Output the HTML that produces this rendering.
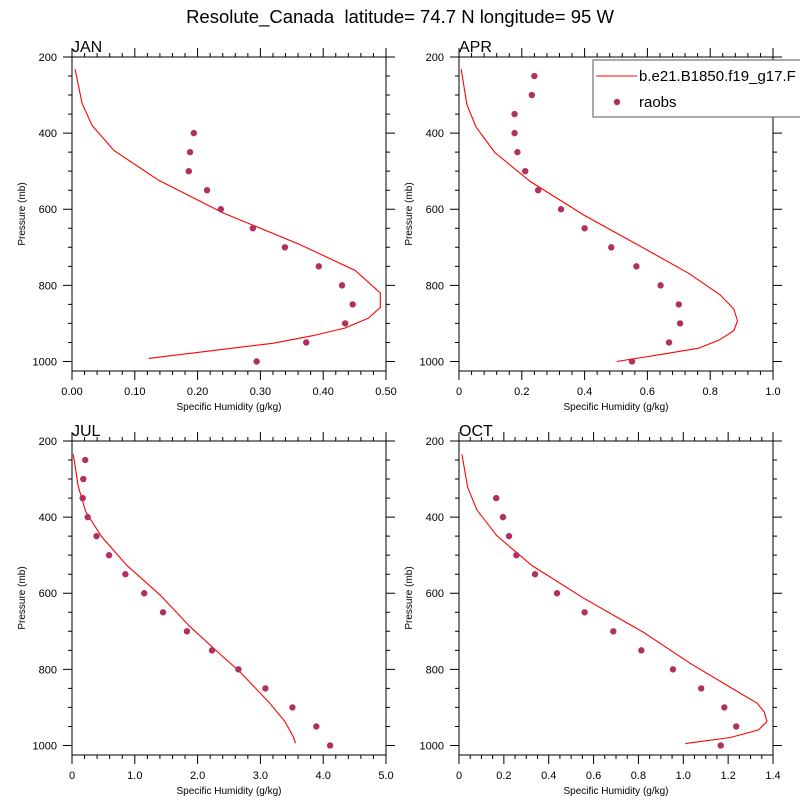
<!DOCTYPE html>
<html><head><meta charset="utf-8"><style>
body{margin:0;background:#fff}
svg{display:block;font-family:"Liberation Sans",sans-serif}
</style></head><body>
<svg id="c" width="800" height="800" viewBox="0 0 800 800">
<text x="400" y="23" font-size="18.5" text-anchor="middle" style="white-space:pre">Resolute_Canada  latitude= 74.7 N longitude= 95 W</text>
</svg>
<script>
const pressureObsJan=[400,450,500,550,600,650,700,750,800,850,900,950,1000];
const obsJan=[0.194,0.188,0.186,0.215,0.237,0.288,0.339,0.393,0.430,0.447,0.435,0.373,0.294];
const pressureModJan=[232,321,380,446,524,610,693,761,820,858,886,912,932,952,992];
const modJan=[0.005,0.016,0.032,0.067,0.138,0.241,0.363,0.451,0.491,0.491,0.472,0.435,0.384,0.321,0.122];

const pressureObsApr=[250,300,350,400,450,500,550,600,650,700,750,800,850,900,950,1000];
const obsApr=[0.240,0.232,0.177,0.177,0.186,0.211,0.252,0.325,0.400,0.485,0.565,0.642,0.700,0.704,0.669,0.551];
const pressureModApr=[232,325,384,451,527,615,685,768,825,862,893,919,943,965,982,1000];
const modApr=[0.007,0.025,0.054,0.114,0.227,0.397,0.551,0.731,0.832,0.875,0.887,0.875,0.830,0.763,0.641,0.503];

const pressureObsJul=[250,300,350,400,450,500,550,600,650,700,750,800,850,900,950,1000];
const obsJul=[0.21,0.18,0.17,0.25,0.39,0.59,0.85,1.15,1.45,1.83,2.23,2.65,3.08,3.51,3.89,4.11];
const pressureModJul=[235,320,386,451,526,604,688,744,806,889,937,976,994];
const modJul=[0.021,0.10,0.22,0.47,0.87,1.40,1.88,2.25,2.67,3.15,3.39,3.52,3.56];

const pressureObsOct=[350,400,450,500,550,600,650,700,750,800,850,900,950,1000];
const obsOct=[0.166,0.196,0.223,0.256,0.339,0.437,0.560,0.688,0.813,0.954,1.080,1.183,1.236,1.167];
const pressureModOct=[235,322,381,449,527,613,703,784,858,889,912,937,959,979,995];
const modOct=[0.013,0.039,0.080,0.169,0.325,0.556,0.823,1.031,1.240,1.329,1.361,1.373,1.336,1.210,1.009];

const yTicks=[200,400,600,800,1000];
const xTicksJan=["0.00","0.10","0.20","0.30","0.40","0.50"];
const xTicksApr=["0","0.2","0.4","0.6","0.8","1.0"];
const xTicksJul=["0","1.0","2.0","3.0","4.0","5.0"];
const xTicksOct=["0","0.2","0.4","0.6","0.8","1.0","1.2","1.4"];

const NS="http://www.w3.org/2000/svg";
const svg=document.getElementById('c');
function mk(tag,attrs,parent){const e=document.createElementNS(NS,tag);for(const k in attrs)e.setAttribute(k,attrs[k]);(parent||svg).appendChild(e);return e;}

const panels=[
 {name:'jan',title:'JAN',x0:72,y0:57,xmax:0.5,minor:0.02,ticks:xTicksJan,mp:pressureModJan,mv:modJan,op:pressureObsJan,ov:obsJan},
 {name:'apr',title:'APR',x0:459,y0:57,xmax:1.0,minor:0.04,ticks:xTicksApr,mp:pressureModApr,mv:modApr,op:pressureObsApr,ov:obsApr},
 {name:'jul',title:'JUL',x0:72,y0:441,xmax:5.0,minor:0.2,ticks:xTicksJul,mp:pressureModJul,mv:modJul,op:pressureObsJul,ov:obsJul},
 {name:'oct',title:'OCT',x0:459,y0:441,xmax:1.4,minor:0.05,ticks:xTicksOct,mp:pressureModOct,mv:modOct,op:pressureObsOct,ov:obsOct}
];
const W=314,H=314,PMIN=200,PMAX=1025;
panels.forEach(p=>{
 const g=mk('g',{});
 
 
 const X=v=>p.x0+v/p.xmax*W;
 const Y=v=>p.y0+(v-PMIN)/(PMAX-PMIN)*H;
 const t=mk('text',{x:p.x0,y:p.y0-5,'font-size':16},g);t.textContent=p.title;
 
 
 let d='';
 const nMinor=Math.round(p.xmax/p.minor);
 for(let i=0;i<=nMinor;i++){const x=X(i*p.minor);d+=`M${x} ${p.y0}v-4M${x} ${p.y0+H}v4`;}
 p.ticks.forEach((lab,i)=>{const v=i*p.xmax/(p.ticks.length-1);const x=X(v);d+=`M${x} ${p.y0}v-9M${x} ${p.y0+H}v9`;
  const tl=mk('text',{x:x,y:p.y0+H+24,'font-size':11,'text-anchor':'middle'},g);tl.textContent=lab;
  
  });
 for(let v=200;v<=1000;v+=50){const y=Y(v);const L=(v%200===0)?9:4;d+=`M${p.x0} ${y}h-${L}M${p.x0+W} ${y}h${L}`;}
 yTicks.forEach(v=>{const tl=mk('text',{x:p.x0-15,y:Y(v)+4,'font-size':11,'text-anchor':'end'},g);tl.textContent=v;
  
  });
 const tk=mk('path',{d:d,stroke:'#000','stroke-width':1,fill:'none'},g);
 
 
 const fr=mk('rect',{x:p.x0,y:p.y0,width:W,height:H,fill:'none',stroke:'#000','stroke-width':1},g);
 
 
 const xt=mk('text',{x:p.x0+W/2,y:p.y0+H+39,'font-size':10,'text-anchor':'middle'},g);xt.textContent='Specific Humidity (g/kg)';
 
 
 const yt=mk('text',{x:0,y:0,'font-size':10,'text-anchor':'middle',transform:`translate(${p.x0-47},${p.y0+H/2}) rotate(-90)`},g);yt.textContent='Pressure (mb)';
 
 
 const pts=p.mv.map((v,i)=>X(v).toFixed(1)+','+Y(p.mp[i]).toFixed(1)).join(' ');
 const ln=mk('polyline',{points:pts,fill:'none',stroke:'#ff0000','stroke-width':1.1},g);
 
 
 p.ov.forEach((v,i)=>{const c=mk('circle',{cx:X(v),cy:Y(p.op[i]),r:3.2,fill:'#b03060'},g);
  
  });
});
const lg=mk('g',{});


mk('rect',{x:593,y:60,width:220,height:57,fill:'#fff',stroke:'#555','stroke-width':1},lg);
const l1=mk('line',{x1:596,y1:76,x2:637,y2:76,stroke:'#ff0000','stroke-width':1.1},lg);


const lt1=mk('text',{x:639,y:81,'font-size':15},lg);lt1.textContent='b.e21.B1850.f19_g17.F';


const lc=mk('circle',{cx:617,cy:102,r:3.2,fill:'#b03060'},lg);


const lt2=mk('text',{x:639,y:107,'font-size':15},lg);lt2.textContent='raobs';


</script>
</body></html>
